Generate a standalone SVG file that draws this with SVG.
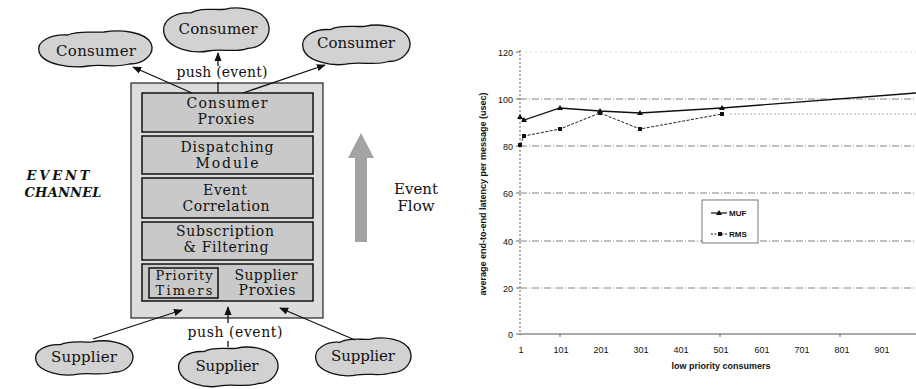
<svg xmlns="http://www.w3.org/2000/svg" width="916" height="389" viewBox="0 0 916 389">
<style>
.serif{font-family:"DejaVu Serif","Liberation Serif",serif;fill:#111}
.lbl{font-size:14px;text-anchor:middle}
.cloud{fill:#d2d2d2;stroke:#111;stroke-width:1.3}
.box{fill:#c9c9c9;stroke:#111;stroke-width:1.5}
.conn{stroke:#111;stroke-width:1.3;fill:none}
.sans{font-family:"Liberation Sans",Arial,sans-serif;fill:#111}
.tick{font-size:9px}
.grid{stroke:#777;stroke-width:0.9;stroke-dasharray:7 2 1 2;fill:none}
</style>
<defs>
<marker id="ah" viewBox="0 0 10 10" refX="9" refY="5" markerWidth="9" markerHeight="9" markerUnits="userSpaceOnUse" orient="auto">
<path d="M0,1 L10,5 L0,9 Z" fill="#111"/>
</marker>
<path id="cloudShape" vector-effect="non-scaling-stroke" d="M -49,3 C -52,-8 -38,-15 -24,-14 C -14,-19 -2,-16 8,-17 C 22,-20 44,-17 49,-6 C 53,4 44,15 30,15 C 18,19 6,15 -6,17 C -22,20 -46,15 -49,3 Z"/>
</defs>
<rect width="916" height="389" fill="#fff"/>

<!-- Event channel -->
<g id="event-channel">
<rect x="131" y="83" width="192" height="235" fill="#dcdcdc" stroke="#222" stroke-width="1.2"/>
<text class="serif" x="58" y="180" font-size="13" font-style="italic" font-weight="bold" text-anchor="middle" textLength="63">EVENT</text>
<text class="serif" x="63" y="197" font-size="13" font-style="italic" font-weight="bold" text-anchor="middle" textLength="77">CHANNEL</text>
</g>
<g id="consumer-proxies">
<rect class="box" x="142" y="93" width="171" height="39"/>
<text class="serif lbl" x="227" y="108" textLength="81">Consumer</text>
<text class="serif lbl" x="226" y="124" textLength="57">Proxies</text>
</g>
<g id="dispatching-module">
<rect class="box" x="142" y="136" width="171" height="38"/>
<text class="serif lbl" x="227" y="152" textLength="93">Dispatching</text>
<text class="serif lbl" x="227" y="168" textLength="63">Module</text>
</g>
<g id="event-correlation">
<rect class="box" x="142" y="178" width="171" height="40"/>
<text class="serif lbl" x="225" y="195" textLength="44">Event</text>
<text class="serif lbl" x="226" y="211" textLength="87">Correlation</text>
</g>
<g id="subscription-filtering">
<rect class="box" x="142" y="222" width="171" height="38"/>
<text class="serif lbl" x="225" y="236" textLength="98">Subscription</text>
<text class="serif lbl" x="226" y="252" textLength="85">&amp; Filtering</text>
</g>
<g id="supplier-proxies">
<rect class="box" x="142" y="264" width="171" height="37"/>
<text class="serif" x="266" y="280" font-size="14" text-anchor="middle" textLength="63">Supplier</text>
<text class="serif" x="267" y="295" font-size="14" text-anchor="middle" textLength="57">Proxies</text>
</g>
<g id="priority-timers">
<rect x="149" y="268" width="69" height="30" fill="none" stroke="#111" stroke-width="1.5"/>
<text class="serif" x="184" y="280" font-size="13" text-anchor="middle" textLength="57">Priority</text>
<text class="serif" x="184" y="295" font-size="13" text-anchor="middle" textLength="57">Timers</text>
</g>

<!-- Clouds -->
<g id="consumer-left">
<use href="#cloudShape" class="cloud" transform="translate(95,49) scale(1.14,1.0)"/>
<text class="serif" x="96" y="56" font-size="15" text-anchor="middle" textLength="80">Consumer</text>
</g>
<g id="consumer-center">
<use href="#cloudShape" class="cloud" transform="translate(216,30) scale(1.06,1.22)"/>
<text class="serif" x="218" y="34" font-size="15" text-anchor="middle" textLength="79">Consumer</text>
</g>
<g id="consumer-right">
<use href="#cloudShape" class="cloud" transform="translate(356,45) scale(1.08,1.1)"/>
<text class="serif" x="356" y="48" font-size="15" text-anchor="middle" textLength="78">Consumer</text>
</g>
<g id="supplier-left">
<use href="#cloudShape" class="cloud" transform="translate(84,358) scale(0.98,0.95)"/>
<text class="serif" x="84" y="362" font-size="15" text-anchor="middle" textLength="66">Supplier</text>
</g>
<g id="supplier-center">
<use href="#cloudShape" class="cloud" transform="translate(228,367) scale(1.0,1.1)"/>
<text class="serif" x="227" y="371" font-size="15" text-anchor="middle" textLength="63">Supplier</text>
</g>
<g id="supplier-right">
<use href="#cloudShape" class="cloud" transform="translate(363,357) scale(0.96,1.05)"/>
<text class="serif" x="363" y="361" font-size="15" text-anchor="middle" textLength="64">Supplier</text>
</g>

<!-- Event flow -->
<g id="event-flow">
<path d="M355,242 L355,158 L348,158 L361,133 L374,158 L367,158 L367,242 Z" fill="#a3a3a3"/>
<text class="serif" x="416" y="194" font-size="15" text-anchor="middle">Event</text>
<text class="serif" x="416" y="211" font-size="15" text-anchor="middle">Flow</text>
</g>

<!-- Connectors -->
<g id="connectors">
<line class="conn" x1="192" y1="93" x2="133" y2="67" marker-end="url(#ah)"/>
<line class="conn" x1="218" y1="93" x2="218" y2="82"/>
<line class="conn" x1="218" y1="66" x2="218" y2="53" marker-end="url(#ah)"/>
<line class="conn" x1="243" y1="93" x2="325" y2="65" marker-end="url(#ah)"/>
<line class="conn" x1="93" y1="339" x2="182" y2="310" marker-end="url(#ah)"/>
<line class="conn" x1="228" y1="347" x2="228" y2="341"/>
<line class="conn" x1="228" y1="323" x2="228" y2="307" marker-end="url(#ah)"/>
<line class="conn" x1="355" y1="340" x2="280" y2="308" marker-end="url(#ah)"/>
<text class="serif" x="222" y="77" font-size="14" text-anchor="middle" textLength="91">push (event)</text>
<text class="serif" x="235" y="337" font-size="14" text-anchor="middle" textLength="95">push (event)</text>
</g>

<!-- Chart -->
<g id="chart">
<line x1="520" y1="52" x2="916" y2="52" stroke="#bbb" stroke-width="0.6" stroke-dasharray="2 3"/>
<line class="grid" x1="520" y1="99" x2="916" y2="99"/>
<line class="grid" x1="520" y1="146" x2="916" y2="146"/>
<line class="grid" x1="520" y1="193" x2="916" y2="193"/>
<line class="grid" x1="520" y1="241" x2="916" y2="241"/>
<line class="grid" x1="520" y1="288" x2="916" y2="288"/>
<line x1="520" y1="50" x2="520" y2="335" stroke="#555" stroke-width="0.9" stroke-dasharray="2 2"/>
<line x1="520" y1="334" x2="916" y2="334" stroke="#444" stroke-width="0.9"/>
<g stroke="#444" stroke-width="0.8">
<line x1="516" y1="52" x2="520" y2="52"/><line x1="516" y1="99" x2="520" y2="99"/>
<line x1="516" y1="146" x2="520" y2="146"/><line x1="516" y1="193" x2="520" y2="193"/>
<line x1="516" y1="241" x2="520" y2="241"/><line x1="516" y1="288" x2="520" y2="288"/>
<line x1="516" y1="334" x2="520" y2="334"/>
<line x1="560" y1="334" x2="560" y2="337"/><line x1="720" y1="334" x2="720" y2="337"/><line x1="840" y1="334" x2="840" y2="337"/>
</g>
<g class="sans tick" text-anchor="end">
<text x="513" y="56">120</text><text x="513" y="103">100</text><text x="513" y="150">80</text>
<text x="513" y="197">60</text><text x="513" y="245">40</text><text x="513" y="292">20</text><text x="513" y="338">0</text>
</g>
<g class="sans tick" text-anchor="middle">
<text x="521" y="353">1</text><text x="561" y="353">101</text><text x="601" y="353">201</text>
<text x="641" y="353">301</text><text x="681" y="353">401</text><text x="721" y="353">501</text>
<text x="762" y="353">601</text><text x="802" y="353">701</text><text x="842" y="353">801</text><text x="882" y="353">901</text>
</g>
<text class="sans" x="721" y="369" font-size="9" font-weight="bold" text-anchor="middle">low priority consumers</text>
<text class="sans" transform="translate(486,194) rotate(-90)" font-size="9" font-weight="bold" text-anchor="middle">average end-to-end latency per message (usec)</text>

<!-- MUF -->
<polyline points="520,117 524,120 560,108 600,111 640,113 722,108 916,93" fill="none" stroke="#111" stroke-width="1.3"/>
<g fill="#111">
<path d="M520,114 l3,5 h-6 z"/><path d="M524,117 l3,5 h-6 z"/><path d="M560,105 l3,5 h-6 z"/>
<path d="M600,108 l3,5 h-6 z"/><path d="M640,110 l3,5 h-6 z"/><path d="M722,105 l3,5 h-6 z"/>
</g>
<!-- RMS -->
<polyline points="520,145 524,136 560,129 600,113 640,129 722,114" fill="none" stroke="#222" stroke-width="1" stroke-dasharray="3 1.5"/>
<line x1="730" y1="114" x2="916" y2="114" stroke="#999" stroke-width="0.8" stroke-dasharray="2 2"/>
<g fill="#111">
<rect x="518" y="143" width="4" height="4"/><rect x="522" y="134" width="4" height="4"/><rect x="558" y="127" width="4" height="4"/>
<rect x="598" y="111" width="4" height="4"/><rect x="638" y="127" width="4" height="4"/><rect x="720" y="112" width="4" height="4"/>
</g>
</g>

<g id="legend">
<rect x="702" y="200" width="56" height="43" fill="#fff" stroke="#555" stroke-width="0.8"/>
<line x1="711" y1="213" x2="727" y2="213" stroke="#111" stroke-width="1.2"/>
<path d="M719,210 l3,5 h-6 z" fill="#111"/>
<text class="sans" x="729" y="216" font-size="8" font-weight="bold">MUF</text>
<line x1="711" y1="234" x2="727" y2="234" stroke="#111" stroke-width="1" stroke-dasharray="2 1.5"/>
<rect x="718" y="232" width="4" height="4" fill="#111"/>
<text class="sans" x="729" y="237" font-size="8" font-weight="bold">RMS</text>
</g>
</svg>
